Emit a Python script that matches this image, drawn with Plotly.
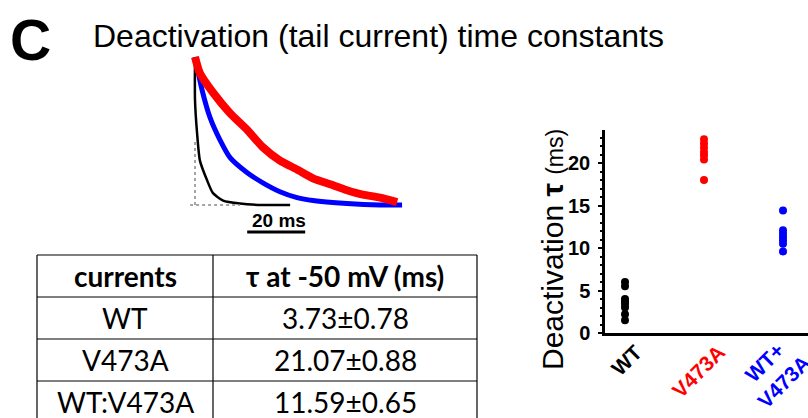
import plotly.graph_objects as go

W, H = 808, 418

# ---------------- data ----------------
groups = ["WT", "V473A", "WT+V473A"]
group_labels = ["WT", "V473A", "WT+<br>V473A"]
group_colors = ["#000000", "#ff0000", "#0000ff"]
wt_tau = [6.0, 5.5, 4.0, 3.7, 3.4, 3.0, 2.2, 1.5]
v473a_tau = [22.8, 22.3, 21.8, 21.3, 20.9, 20.4, 18.0]
mix_tau = [14.4, 12.1, 11.7, 11.3, 10.9, 10.5, 9.6]

# tail current traces (time in ms, normalised current)
wt_t = [0, 0, 0.7, 1.7, 4.1, 6.2, 9.7, 15.5, 23.4, 32.8]
wt_i = [1.0, 0.71, 0.49, 0.30, 0.17, 0.08, 0.03, 0.01, 0.0, 0.0]
mix_t = [0, 2.4, 5.2, 8.6, 12.1, 17.9, 23.4, 29.3, 35.2, 40.7, 52.4, 63.8, 71.4]
mix_i = [1.0, 0.78, 0.59, 0.44, 0.32, 0.22, 0.15, 0.09, 0.05, 0.03, 0.01, 0.0, 0.0]
v_t = [0, 1.7, 6.2, 12.1, 17.9, 23.4, 29.3, 35.2, 40.7, 46.6, 52.4, 57.9, 63.8, 69.7]
v_i = [1.0, 0.89, 0.76, 0.62, 0.51, 0.39, 0.30, 0.24, 0.18, 0.14, 0.10, 0.07, 0.05, 0.02]

# table
table_header = ["currents", "τ at -50 mV (ms)"]
table_names = ["WT", "V473A", "WT:V473A"]
table_mean = ["3.73", "21.07", "11.59"]
table_sem = ["0.78", "0.88", "0.65"]


def px(x):
    return x / W


def py(y):
    return 1 - y / H


fig = go.Figure()

# ---------------- scatter panel ----------------
for name, vals, col in zip(groups, [wt_tau, v473a_tau, mix_tau], group_colors):
    fig.add_trace(go.Scatter(
        x=[name] * len(vals), y=vals, mode="markers",
        marker=dict(color=col, size=8, line=dict(width=0)),
        xaxis="x", yaxis="y", showlegend=False,
    ))

# ---------------- traces inset ----------------
for t, i, col, w in [(wt_t, wt_i, "#000000", 2.5), (mix_t, mix_i, "#0000ff", 5),
                     (v_t, v_i, "#ff0000", 8)]:
    fig.add_trace(go.Scatter(
        x=t, y=i, mode="lines", line=dict(color=col, width=w, shape="spline", smoothing=0.6),
        xaxis="x2", yaxis="y2", showlegend=False,
    ))

layout_font = "Liberation Sans, Arial, sans-serif"

fig.update_layout(
    width=W, height=H,
    margin=dict(l=0, r=0, t=0, b=0, autoexpand=False),
    paper_bgcolor="white", plot_bgcolor="rgba(0,0,0,0)",
    showlegend=False,
    xaxis=dict(
        domain=[px(605), 1], type="category", categoryorder="array", categoryarray=groups,
        range=[(605 - 625) / 79, (808 - 625) / 79],
        showline=True, linecolor="black", linewidth=2.5, showgrid=False, zeroline=False,
        ticks="", showticklabels=False, fixedrange=True, automargin=False,
    ),
    yaxis=dict(
        domain=[py(333), py(130)], range=[0, (333 - 130) / 8.5],
        showline=True, linecolor="black", linewidth=2.5, showgrid=False, zeroline=False,
        tickvals=[0, 5, 10, 15, 20], ticks="outside", ticklen=4, tickwidth=2, tickcolor="black",
        minor=dict(dtick=1, ticks="outside", ticklen=2, tickwidth=1.5, tickcolor="black"),
        tickfont=dict(family=layout_font, size=20, color="black", weight="bold"),
        ticklabelstandoff=4, automargin=False,
    ),
    xaxis2=dict(domain=[px(185), px(410)], range=[-10 / 2.9, 215 / 2.9], visible=False,
                anchor="y2"),
    yaxis2=dict(domain=[py(210), py(50)], range=[(205 - 210) / 148, (205 - 50) / 148],
                visible=False, anchor="x2"),
)

shapes = []
annotations = []

# dotted reference axes of the inset
shapes.append(dict(type="line", xref="x2", yref="y2", x0=0.0, x1=0.0, y0=0, y1=0.44,
                   line=dict(color="#888888", width=1.5, dash="dot")))
shapes.append(dict(type="line", xref="x2", yref="y2", x0=-1.7, x1=15.5, y0=0, y1=0,
                   line=dict(color="#888888", width=1.5, dash="dot")))
# scale bar 20 ms
shapes.append(dict(type="line", xref="x2", yref="paper", x0=18, x1=38, y0=py(232), y1=py(232),
                   line=dict(color="black", width=3)))
annotations.append(dict(xref="x2", yref="paper", x=29, y=py(220), text="<b>20 ms</b>",
                        showarrow=False, font=dict(family=layout_font, size=19, color="black"),
                        xanchor="center", yanchor="middle"))

# panel letter and title
annotations.append(dict(xref="paper", yref="paper", x=px(30), y=py(40), text="<b>C</b>",
                        showarrow=False, font=dict(family=layout_font, size=57, color="black"),
                        xanchor="center", yanchor="middle"))
annotations.append(dict(xref="paper", yref="paper", x=px(91), y=py(36),
                        text="Deactivation (tail current) time constants",
                        showarrow=False, font=dict(family=layout_font, size=32, color="black"),
                        xanchor="left", yanchor="middle"))

# y axis title
annotations.append(dict(xref="paper", yref="paper", x=px(552), y=py(250),
                        text="Deactivation <b>τ</b> <span style='font-size:23px'>(ms)</span>",
                        textangle=-90, showarrow=False,
                        font=dict(family=layout_font, size=30, color="black"),
                        xanchor="center", yanchor="middle"))

# category labels (rotated)
label_shift = [1, -6, -9]
label_y = [360, 371, 372]
for g, lab, col, dx, yy in zip(groups, group_labels, group_colors, label_shift, label_y):
    annotations.append(dict(xref="x", yref="paper", x=g, y=py(yy), xshift=dx,
                            text="<b>" + lab + "</b>", textangle=-45, showarrow=False,
                            font=dict(family=layout_font, size=21, color=col),
                            xanchor="center", yanchor="middle"))

# ---------------- table ----------------
tab_x = [37, 213, 477]
tab_y = [255, 297, 339, 381, 423]
tfont = "Lato, Carlito, Calibri, sans-serif"
for yy in tab_y:
    shapes.append(dict(type="line", xref="paper", yref="paper", x0=px(tab_x[0]), x1=px(tab_x[-1]),
                       y0=py(yy), y1=py(yy), line=dict(color="black", width=1.2)))
for xx in tab_x:
    shapes.append(dict(type="line", xref="paper", yref="paper", x0=px(xx), x1=px(xx),
                       y0=py(tab_y[0]), y1=py(tab_y[-1]), line=dict(color="black", width=1.2)))

col_c = [(tab_x[0] + tab_x[1]) / 2, (tab_x[1] + tab_x[2]) / 2]
rows = [[f"<b>{table_header[0]}</b>", f"<b>{table_header[1]}</b>"]]
for n, m, s in zip(table_names, table_mean, table_sem):
    rows.append([n, f"{m}±{s}"])
for r, row in enumerate(rows):
    yc = (tab_y[r] + tab_y[r + 1]) / 2
    for c, txt in enumerate(row):
        annotations.append(dict(xref="paper", yref="paper", x=px(col_c[c]), y=py(yc), text=txt,
                                showarrow=False, font=dict(family=tfont, size=28, color="black"),
                                xanchor="center", yanchor="middle"))

fig.update_layout(shapes=shapes, annotations=annotations)
fig.write_html("out.html", config={"displayModeBar": False},
               post_script="document.body.style.margin='0px';")
